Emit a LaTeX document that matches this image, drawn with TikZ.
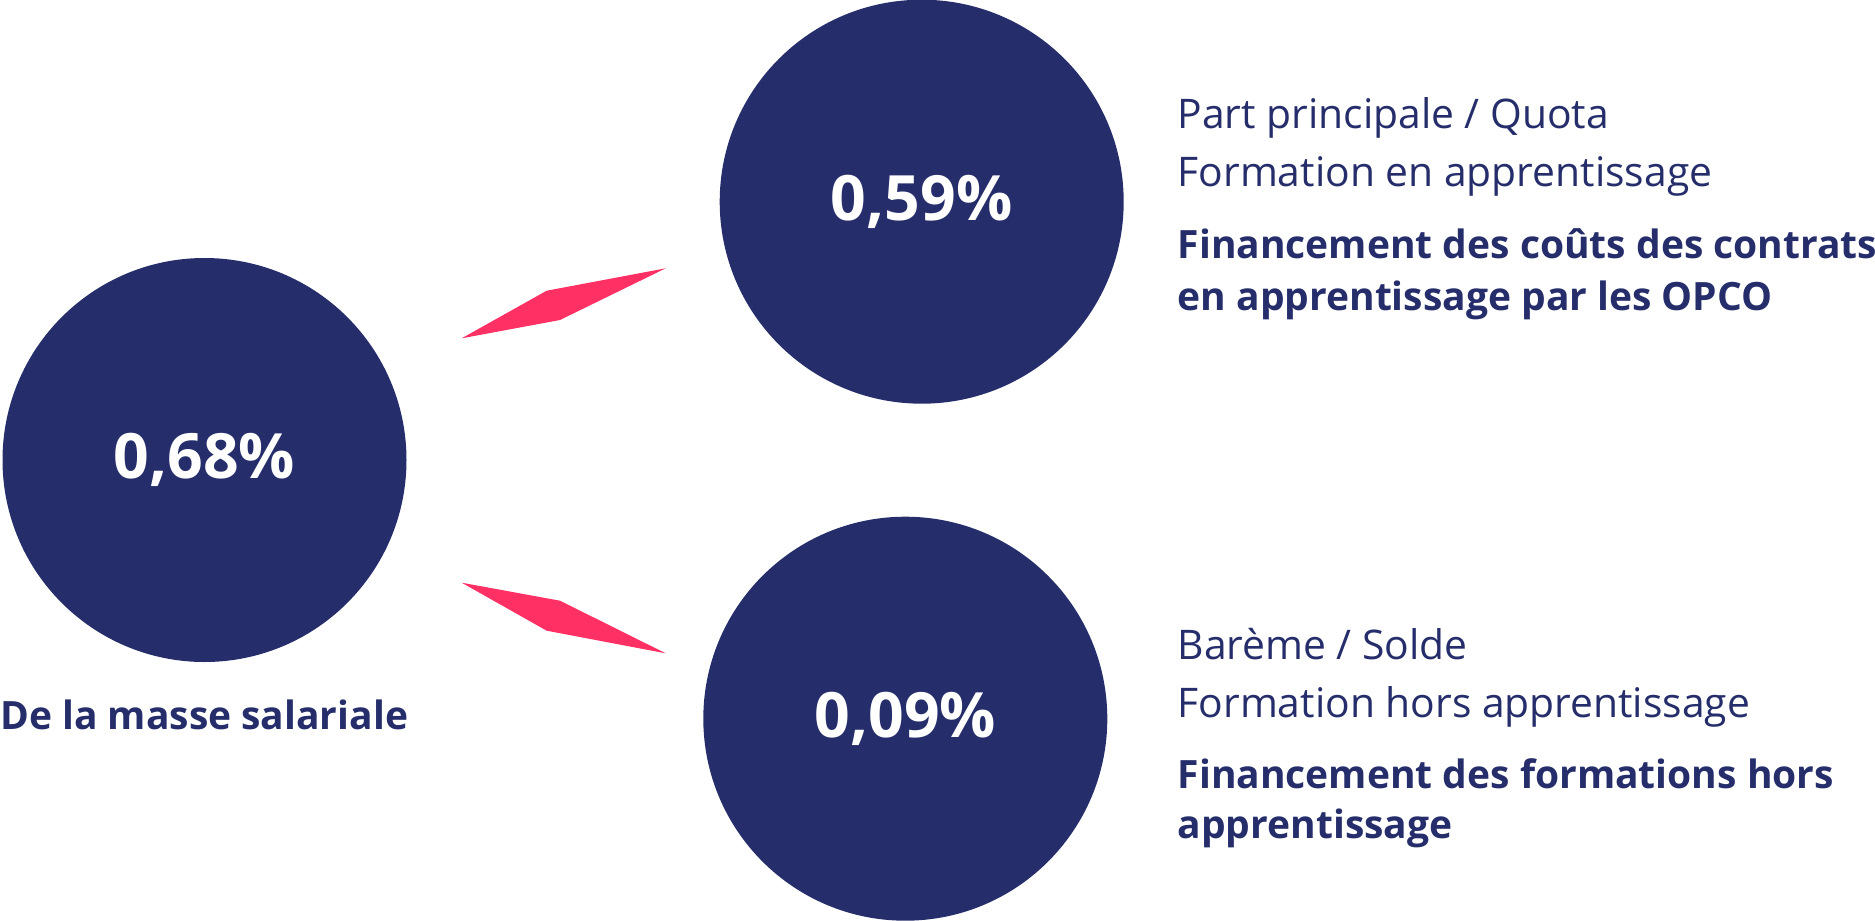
\documentclass[tikz,border=0pt]{standalone}
\usepackage{fontspec}
\setmainfont{Open Sans}
\definecolor{inkblue}{HTML}{252E6B}
\definecolor{rosered}{HTML}{FF3064}
\tikzset{
  disc/.style={circle, fill=inkblue, inner sep=0pt, minimum size=404pt,
    text=white, font=\fontsize{62.5}{62.5}\selectfont\bfseries},
  plain/.style={anchor=base west, inner sep=0pt, text=inkblue,
    font=\fontsize{40.8}{40.8}\selectfont},
  heavy/.style={anchor=base west, inner sep=0pt, text=inkblue,
    font=\fontsize{39}{39}\selectfont\bfseries},
  wing/.style={fill=rosered}
}
\begin{document}
\begin{tikzpicture}[x=1pt, y=-1pt]
  \useasboundingbox (0,0) rectangle (1875,921);
  % the three circles
  \node[disc] (total) at (204.5,460) {0,68\%};
  \node[disc] (quota) at (921.7,201.7) {0,59\%};
  \node[disc] (solde) at (905.3,718.7) {0,09\%};
  \node[heavy] (totallabel) at (0,729.3) {De la masse salariale};
  % upper texts
  \node[plain] (quota1) at (1177.5,128.3) {Part principale / Quota};
  \node[plain] (quota2) at (1177.5,186.7) {Formation en apprentissage};
  \node[heavy] (quota3) at (1177.5,258.3) {Financement des coûts des contrats};
  \node[heavy] (quota4) at (1177.5,310) {en apprentissage par les OPCO};
  % lower texts
  \node[plain] (solde1) at (1177.5,659) {Barème / Solde};
  \node[plain] (solde2) at (1177.5,717.5) {Formation hors apprentissage};
  \node[heavy] (solde3) at (1177.5,788) {Financement des formations hors};
  \node[heavy] (solde4) at (1177.5,838) {apprentissage};
  % pink wings
  \fill[wing] (461.7,338.3) -- (546.7,290.7) -- (665.7,268.3) -- (560,320) -- cycle;
  \fill[wing] (461.7,582.7) -- (560,600.7) -- (665.7,653.3) -- (546.7,630.7) -- cycle;
\end{tikzpicture}
\end{document}
